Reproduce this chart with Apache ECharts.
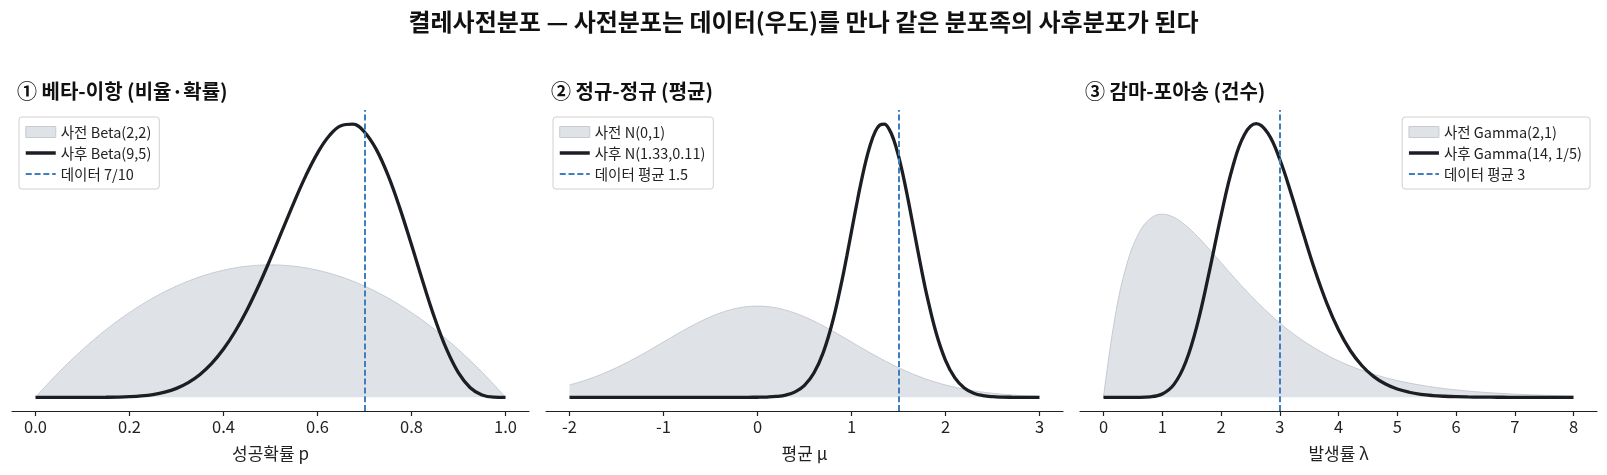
<!DOCTYPE html>
<html>
<head>
<meta charset="utf-8">
<script src="https://cdn.jsdelivr.net/npm/echarts@6/dist/echarts.min.js"></script>
<style>
  html, body { margin: 0; padding: 0; background: #fff; }
  #chart { width: 1607px; height: 475px; }
</style>
</head>
<body>
<div id="chart"></div>
<script>
// ---- data ----
const betaX = [0, 0.025, 0.05, 0.075, 0.1, 0.125, 0.15, 0.175, 0.2, 0.225, 0.25, 0.275, 0.3, 0.325, 0.35, 0.375, 0.4, 0.425, 0.45, 0.475,
  0.5, 0.525, 0.55, 0.575, 0.6, 0.625, 0.65, 0.675, 0.7, 0.725, 0.75, 0.775, 0.8, 0.825, 0.85, 0.875, 0.9, 0.925, 0.95, 0.975, 1];
const betaPrior = [0, 0.14625, 0.285, 0.41625, 0.54, 0.65625, 0.765, 0.86625, 0.96, 1.04625, 1.125, 1.19625, 1.26, 1.31625, 1.365, 1.40625, 1.44, 1.46625, 1.485, 1.49625,
  1.5, 1.49625, 1.485, 1.46625, 1.44, 1.40625, 1.365, 1.31625, 1.26, 1.19625, 1.125, 1.04625, 0.96, 0.86625, 0.765, 0.65625, 0.54, 0.41625, 0.285, 0.14625, 0];
const betaPost = [0, 0, 0, 0, 0.00004, 0.00023, 0.00086, 0.00262, 0.00675, 0.01525, 0.03107, 0.05815, 0.10137, 0.16628, 0.25868, 0.38398, 0.54656, 0.74872, 0.99015, 1.26688,
  1.571, 1.8906, 2.2095, 2.50858, 2.7669, 2.96295, 3.0771, 3.09395, 3.0048, 2.80914, 2.5165, 2.14633, 1.7274, 1.2952, 0.8877, 0.53986, 0.27701, 0.10913, 0.02668, 0.00205, 0];

const normX = [-2, -1.9, -1.8, -1.7, -1.6, -1.5, -1.4, -1.3, -1.2, -1.1, -1, -0.9, -0.8, -0.7, -0.6, -0.5, -0.4, -0.3, -0.2, -0.1,
  0, 0.1, 0.2, 0.3, 0.4, 0.5, 0.6, 0.7, 0.8, 0.9, 0.95, 1, 1.05, 1.1, 1.15, 1.2, 1.25, 1.3, 1.35, 1.4, 1.45, 1.5, 1.55, 1.6, 1.65, 1.7, 1.75, 1.8, 1.9,
  2, 2.1, 2.2, 2.3, 2.4, 2.5, 2.6, 2.7, 2.8, 2.9, 3];
const normPrior = [0.05399, 0.06562, 0.07895, 0.09405, 0.11092, 0.12952, 0.14973, 0.17137, 0.19419, 0.21785, 0.24197, 0.26609, 0.28969, 0.31225, 0.33322, 0.35207, 0.36827, 0.38139, 0.39104, 0.39695,
  0.39894, 0.39695, 0.39104, 0.38139, 0.36827, 0.35207, 0.33322, 0.31225, 0.28969, 0.26609, 0.25405, 0.24197, 0.22988, 0.21785, 0.20593, 0.19419, 0.18265, 0.17137, 0.16039, 0.14973,
  0.13943, 0.12952, 0.12001, 0.11092, 0.10226, 0.09405, 0.08628, 0.07895, 0.06562,
  0.05399, 0.04398, 0.03547, 0.02833, 0.02239, 0.01753, 0.01358, 0.01042, 0.00792, 0.00595, 0.00443];
const normPost = [0, 0, 0, 0, 0, 0, 0, 0, 0, 0, 0, 0, 0, 0, 0, 0, 0, 0, 0.00003, 0.00012,
  0.0004, 0.00127, 0.0037, 0.0098, 0.02375, 0.05259, 0.10642, 0.19684, 0.33277, 0.51411, 0.6178, 0.72591, 0.83396, 0.93676, 1.02883, 1.10482, 1.16, 1.19086, 1.19533, 1.17313,
  1.12573, 1.0562, 0.96891, 0.86908, 0.76215, 0.65355, 0.54795, 0.44918, 0.28215,
  0.16197, 0.08496, 0.04075, 0.01786, 0.00716, 0.00262, 0.00088, 0.00027, 0.00008, 0.00002, 0];

const gammaX = [0, 0.2, 0.4, 0.6, 0.8, 1, 1.2, 1.4, 1.6, 1.8, 2, 2.2, 2.4, 2.6, 2.8, 3, 3.2, 3.4, 3.6, 3.8,
  4, 4.2, 4.4, 4.6, 4.8, 5, 5.2, 5.4, 5.6, 5.8, 6, 6.2, 6.4, 6.6, 6.8, 7, 7.2, 7.4, 7.6, 7.8, 8];
const gammaPrior = [0, 0.16375, 0.26813, 0.32929, 0.35946, 0.36788, 0.36143, 0.34524, 0.32304, 0.29754, 0.27067, 0.24377, 0.21772, 0.19311, 0.17027, 0.14936, 0.13044, 0.11347, 0.09837, 0.08501,
  0.07326, 0.06298, 0.05402, 0.04624, 0.0395, 0.03369, 0.02869, 0.02439, 0.02071, 0.01756, 0.01487, 0.01258, 0.01063, 0.00898, 0.00757, 0.00638, 0.00538, 0.00452, 0.0038, 0.0032, 0.00268];
const gammaPost = [0, 0, 0.000001, 0.00006, 0.00099, 0.00661, 0.026, 0.071, 0.1481, 0.252, 0.3646, 0.4632, 0.528, 0.5497, 0.5301, 0.4783, 0.4071, 0.3294, 0.2547, 0.1893,
  0.1357, 0.0941, 0.0634, 0.0415, 0.0266, 0.0166, 0.0102, 0.0061, 0.0036, 0.0021, 0.0012, 0.0007, 0.0004, 0.0002, 0.0001, 0, 0, 0, 0, 0, 0];

const betaTicks = [0, 0.2, 0.4, 0.6, 0.8, 1.0];
const normTicks = [-2, -1, 0, 1, 2, 3];
const gammaTicks = [0, 1, 2, 3, 4, 5, 6, 7, 8];

const dataMarks = [0.7, 1.5, 3];
const peaks = [3.10, 1.197, 0.5497];

const panelTitles = ['① 베타-이항 (비율·확률)', '② 정규-정규 (평균)', '③ 감마-포아송 (건수)'];
const axisNames = ['성공확률 p', '평균 μ', '발생률 λ'];
const priorNames = ['사전 Beta(2,2)', '사전 N(0,1)', '사전 Gamma(2,1)'];
const postNames = ['사후 Beta(9,5)', '사후 N(1.33,0.11)', '사후 Gamma(14, 1/5)'];
const dataNames = ['데이터 7/10', '데이터 평균 1.5', '데이터 평균 3'];

const FONT = '"Noto Sans CJK KR", "Noto Sans", sans-serif';
const PRIOR_FILL = '#dfe2e7';
const PRIOR_EDGE = '#c6cbd2';
const POST_COLOR = '#1b1e23';
const DATA_COLOR = '#3f7fc0';
const DASH = [6, 2.8];

const zip = (xs, ys) => xs.map((x, i) => [x, ys[i]]);

const panels = [
  { x: betaX, prior: betaPrior, post: betaPost, ticks: betaTicks, min: -0.05, max: 1.05, fmt: v => v.toFixed(1), left: 12, legendPos: { left: 19 } },
  { x: normX, prior: normPrior, post: normPost, ticks: normTicks, min: -2.25, max: 3.25, fmt: v => String(v), left: 546, legendPos: { left: 553 } },
  { x: gammaX, prior: gammaPrior, post: gammaPost, ticks: gammaTicks, min: -0.4, max: 8.4, fmt: v => String(v), left: 1080, legendPos: { right: 17 } }
];

const chart = echarts.init(document.getElementById('chart'), null, { renderer: 'canvas' });

const grid = [], xAxis = [], yAxis = [], series = [], legend = [];
const title = [{
  text: '켤레사전분포 — 사전분포는 데이터(우도)를 만나 같은 분포족의 사후분포가 된다',
  left: 'center', top: 5,
  textStyle: { fontFamily: FONT, fontSize: 24, fontWeight: 'bold', color: '#111' }
}];

panels.forEach((p, i) => {
  grid.push({ left: p.left, width: 517, top: 110, bottom: 64 });
  title.push({
    text: panelTitles[i], left: p.left, top: 76,
    textStyle: { fontFamily: FONT, fontSize: 20, fontWeight: 'bold', color: '#111' }
  });
  xAxis.push({
    type: 'value', gridIndex: i, min: p.min, max: p.max,
    name: axisNames[i], nameLocation: 'middle', nameGap: 34,
    nameTextStyle: { fontFamily: FONT, fontSize: 17, color: '#222' },
    axisLine: { show: true, onZero: false, lineStyle: { color: '#222', width: 1.2 } },
    axisTick: { show: true, length: 5, lineStyle: { color: '#222', width: 1.2 }, customValues: p.ticks },
    axisLabel: { fontFamily: FONT, fontSize: 16.5, color: '#222', margin: 7, customValues: p.ticks, formatter: p.fmt },
    splitLine: { show: false }
  });
  yAxis.push({
    type: 'value', gridIndex: i, show: false,
    min: -0.05 * peaks[i], max: 1.05 * peaks[i],
    splitLine: { show: false }
  });
  series.push({
    name: priorNames[i], type: 'line', xAxisIndex: i, yAxisIndex: i,
    data: zip(p.x, p.prior), smooth: 0.4, symbol: 'none', z: 1,
    itemStyle: { color: PRIOR_FILL },
    lineStyle: { color: PRIOR_EDGE, width: 1 },
    areaStyle: { color: PRIOR_FILL, opacity: 1 },
    emphasis: { disabled: true }
  });
  series.push({
    name: postNames[i], type: 'line', xAxisIndex: i, yAxisIndex: i,
    data: zip(p.x, p.post), smooth: 0.4, symbol: 'none', z: 3,
    itemStyle: { color: POST_COLOR },
    lineStyle: { color: POST_COLOR, width: 3.3 },
    emphasis: { disabled: true }
  });
  series.push({
    name: dataNames[i], type: 'line', xAxisIndex: i, yAxisIndex: i,
    data: [], symbol: 'none', z: 4,
    itemStyle: { color: DATA_COLOR },
    lineStyle: { color: DATA_COLOR, width: 2, type: DASH },
    markLine: {
      silent: true, symbol: 'none', label: { show: false },
      lineStyle: { color: DATA_COLOR, width: 2, type: DASH },
      data: [{ xAxis: dataMarks[i] }]
    }
  });
  legend.push(Object.assign({
    top: 117, orient: 'vertical', itemWidth: 30, itemHeight: 11, itemGap: 5,
    padding: [7, 8, 7, 5],
    backgroundColor: 'rgba(255,255,255,0.8)', borderColor: '#d0d0d0', borderWidth: 1, borderRadius: 3,
    textStyle: { fontFamily: FONT, fontSize: 14.5, color: '#222', lineHeight: 16 },
    data: [
      { name: priorNames[i], icon: 'rect', itemStyle: { color: PRIOR_FILL, borderColor: PRIOR_EDGE, borderWidth: 1 } },
      { name: postNames[i], itemStyle: { opacity: 0 }, lineStyle: { color: POST_COLOR, width: 3.5 } },
      { name: dataNames[i], itemStyle: { opacity: 0 }, lineStyle: { color: DATA_COLOR, width: 2.2, type: DASH } }
    ]
  }, p.legendPos));
});

chart.setOption({
  backgroundColor: '#fff',
  animation: false,
  textStyle: { fontFamily: FONT },
  title, grid, xAxis, yAxis, series, legend
});
</script>
</body>
</html>
